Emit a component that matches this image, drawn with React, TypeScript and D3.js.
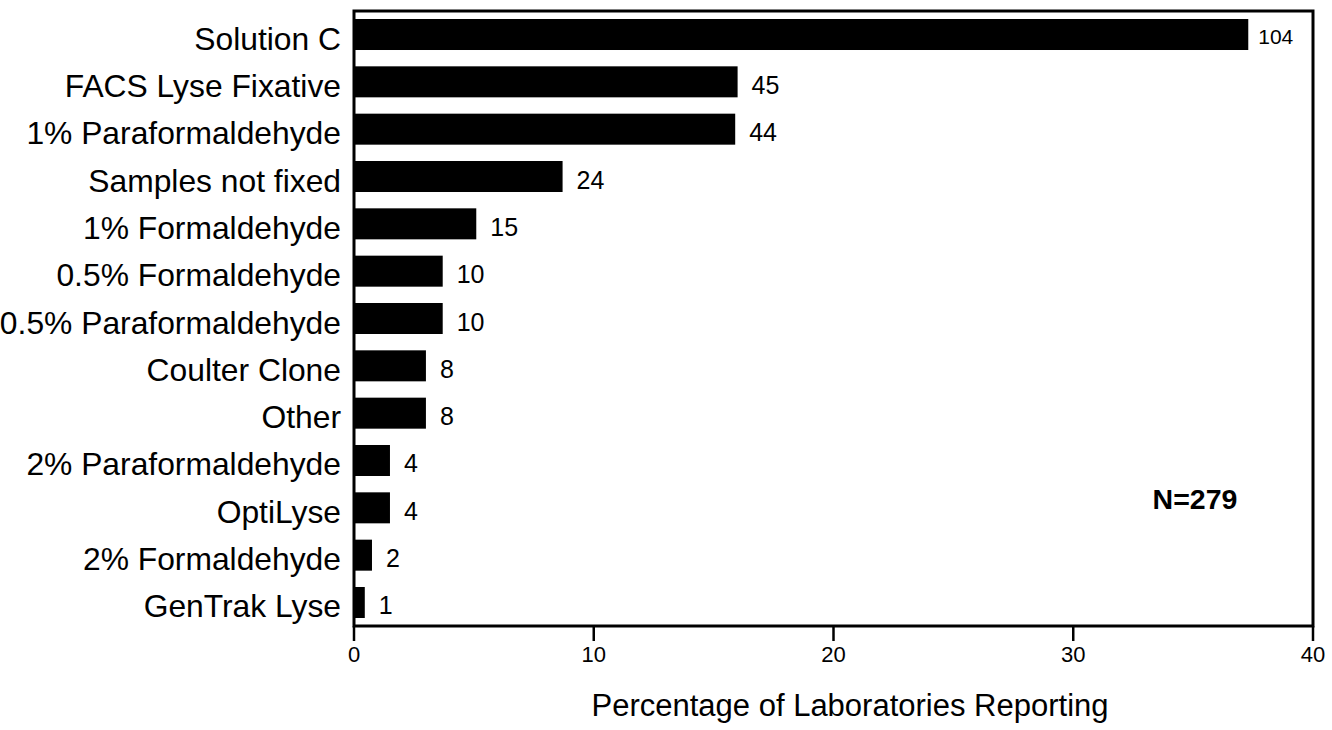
import React from 'react';
import * as d3 from 'd3';

const categories = [
  'Solution C',
  'FACS Lyse Fixative',
  '1% Paraformaldehyde',
  'Samples not fixed',
  '1% Formaldehyde',
  '0.5% Formaldehyde',
  '0.5% Paraformaldehyde',
  'Coulter Clone',
  'Other',
  '2% Paraformaldehyde',
  'OptiLyse',
  '2% Formaldehyde',
  'GenTrak Lyse',
];
// percentage of labs (bar length)
const percents = [37.3, 16.0, 15.9, 8.7, 5.1, 3.7, 3.7, 3.0, 3.0, 1.5, 1.5, 0.75, 0.45];
// number of labs printed next to each bar
const counts = [104, 45, 44, 24, 15, 10, 10, 8, 8, 4, 4, 2, 1];
const xTicks = [0, 10, 20, 30, 40];

const FONT = '"Liberation Sans", Arial, Helvetica, sans-serif';

const App: React.FC = () => {
  const width = 1332;
  const height = 730;
  const plot = { left: 354, right: 1313, top: 11, bottom: 626 };

  const x = d3.scaleLinear().domain([0, 40]).range([plot.left, plot.right]);
  const y = d3
    .scaleBand<string>()
    .domain(categories)
    .range([19, 618])
    .paddingInner(0.345)
    .paddingOuter(0);

  const bw = y.bandwidth();

  return (
    <svg
      width={width}
      height={height}
      viewBox={`0 0 ${width} ${height}`}
      style={{ position: 'absolute', left: 0, top: 0, background: '#fff' }}
    >
      {/* bars */}
      {categories.map((c, i) => (
        <rect
          key={c}
          x={x(0)}
          y={y(c)}
          width={x(percents[i]) - x(0)}
          height={bw}
          fill="#000"
        />
      ))}

      {/* frame */}
      <rect
        x={plot.left}
        y={plot.top}
        width={plot.right - plot.left}
        height={plot.bottom - plot.top}
        fill="none"
        stroke="#000"
        strokeWidth={3}
      />

      {/* category labels */}
      {categories.map((c) => (
        <text
          key={c}
          x={341}
          y={(y(c) as number) + bw / 2 + 15}
          textAnchor="end"
          fontFamily={FONT}
          fontSize={31.8}
          fill="#000"
        >
          {c}
        </text>
      ))}

      {/* counts */}
      {categories.map((c, i) => {
        const big = counts[i] >= 100;
        return (
          <text
            key={c}
            x={x(percents[i]) + (big ? 10 : 14)}
            y={(y(c) as number) + bw / 2 + (big ? 9 : 12)}
            fontFamily={FONT}
            fontSize={big ? 21 : 25}
            fill="#000"
          >
            {counts[i]}
          </text>
        );
      })}

      {/* x ticks */}
      {xTicks.map((t) => (
        <g key={t}>
          <line
            x1={x(t)}
            x2={x(t)}
            y1={plot.bottom}
            y2={641}
            stroke="#000"
            strokeWidth={2.5}
          />
          <text
            x={x(t)}
            y={662}
            textAnchor="middle"
            fontFamily={FONT}
            fontSize={22}
            fill="#000"
          >
            {t}
          </text>
        </g>
      ))}

      <text
        x={850}
        y={716}
        textAnchor="middle"
        fontFamily={FONT}
        fontSize={31}
        fill="#000"
      >
        Percentage of Laboratories Reporting
      </text>

      <text
        x={1195}
        y={509}
        textAnchor="middle"
        fontFamily={FONT}
        fontSize={28.5}
        fontWeight="bold"
        fill="#000"
      >
        N=279
      </text>
    </svg>
  );
};

export default App;
